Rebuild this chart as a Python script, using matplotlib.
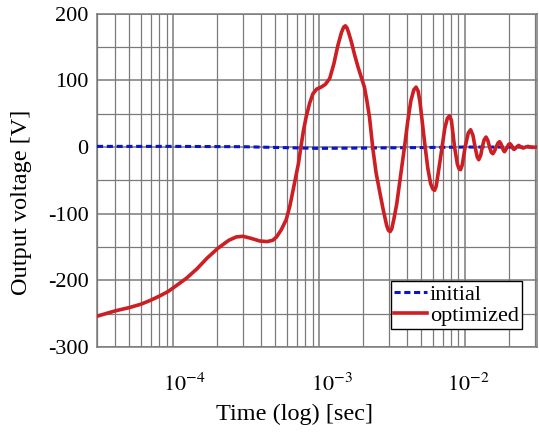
import numpy as np
import matplotlib.pyplot as plt
from matplotlib.transforms import ScaledTranslation

plt.rcParams["font.family"] = ["Liberation Serif", "DejaVu Serif"]
plt.rcParams["mathtext.fontset"] = "stix"
plt.rcParams["axes.unicode_minus"] = False

# values
t_init = [3.0e-5, 1.0e-4, 3.0e-4, 6.0e-4, 1.0e-3, 2.0e-3, 4.0e-3, 1.0e-2, 3.1e-2]
v_init = [1, 1, 0.5, -1, -2, -1.5, -1, 0, 0]

t_opt = [3.0e-5, 4.0e-5, 5.0e-5, 6.0e-5, 7.0e-5, 8.0e-5, 9.2e-5, 1.05e-4, 1.23e-4,
         1.45e-4, 1.7e-4, 2.02e-4, 2.4e-4, 2.7e-4, 3.0e-4, 3.4e-4, 3.9e-4, 4.4e-4,
         4.8e-4, 5.1e-4, 5.5e-4, 5.94e-4, 6.3e-4, 6.6e-4, 6.9e-4, 7.2e-4, 7.5e-4,
         7.8e-4, 8.15e-4, 8.6e-4, 9.05e-4, 9.6e-4, 1.03e-3, 1.1e-3, 1.18e-3, 1.26e-3,
         1.34e-3, 1.42e-3, 1.47e-3, 1.51e-3, 1.55e-3, 1.6e-3, 1.66e-3, 1.75e-3,
         1.84e-3, 1.94e-3, 2.04e-3, 2.12e-3, 2.21e-3, 2.33e-3, 2.45e-3, 2.59e-3,
         2.75e-3, 2.9e-3, 2.98e-3, 3.06e-3, 3.14e-3, 3.25e-3, 3.4e-3, 3.6e-3,
         3.84e-3, 4.05e-3, 4.25e-3, 4.45e-3, 4.61e-3, 4.76e-3, 4.9e-3, 5.1e-3,
         5.32e-3, 5.55e-3, 5.8e-3, 6.0e-3, 6.17e-3, 6.33e-3, 6.55e-3, 6.95e-3,
         7.25e-3, 7.55e-3, 7.81e-3, 8.05e-3, 8.46e-3, 8.85e-3, 9.1e-3, 9.3e-3,
         9.55e-3, 1.0e-2, 1.05e-2, 1.09e-2, 1.13e-2, 1.17e-2, 1.21e-2, 1.24e-2,
         1.28e-2, 1.31e-2, 1.35e-2, 1.39e-2, 1.43e-2, 1.47e-2, 1.51e-2, 1.55e-2,
         1.59e-2, 1.63e-2, 1.68e-2, 1.72e-2, 1.76e-2, 1.79e-2, 1.83e-2, 1.86e-2,
         1.9e-2, 1.94e-2, 1.99e-2, 2.03e-2, 2.07e-2, 2.1e-2, 2.14e-2, 2.17e-2,
         2.21e-2, 2.25e-2, 2.33e-2, 2.41e-2, 2.5e-2, 2.6e-2, 2.7e-2, 2.8e-2,
         2.9e-2, 3.1e-2]
v_opt = [-254, -246, -241, -236, -230, -224, -217, -208, -197,
         -183, -167, -152, -140, -135, -134, -137, -141, -142,
         -140, -135, -124, -109, -88, -66, -45, -25, 1,
         25, 46, 66, 80, 87, 90, 94, 103, 125,
         152, 172, 180, 182, 179, 170, 158, 138,
         121, 105, 90, 70, 45, -2, -38, -66,
         -95, -118, -125, -127, -123, -108, -85, -45,
         0, 40, 70, 86, 90, 84, 68, 35,
         0, -32, -55, -63, -65, -59, -38, 0,
         28, 43, 47, 40, 0, -26, -33, -34,
         -27, 0, 21, 26, 18, 0, -15, -19,
         -12, 0, 11, 15, 10, 0, -8, -10,
         -6, 0, 6, 8, 5, 0, -5, -7,
         -4, 0, 4, 5, 3, 0, -3, -3.5,
         -2, 0, 2.5, 0, -1.5, 0, 1, 0,
         -0.5, 0]

xticks = [1e-4, 1e-3, 1e-2]
xticklabels = [r"$10^{-4}$", r"$10^{-3}$", r"$10^{-2}$"]
yticks = [-300, -200, -100, 0, 100, 200]

fig = plt.figure(figsize=(5.39, 4.33), dpi=100)
ax = fig.add_axes([0.18, 0.199, 0.816, 0.769])

ax.plot(t_init, v_init, color="#0a14c8", lw=2.2, ls=(0, (2.0, 1.2)), label="initial", zorder=3)
ax.plot(t_opt, v_opt, color="#cc1e23", lw=2.6, label="optimized", zorder=4)

ax.set_xscale("log")
ax.set_xlim(3e-5, 3.1e-2)
ax.set_ylim(-300, 200)
ax.set_xticks(xticks)
ax.set_xticklabels(xticklabels)
ax.set_yticks(yticks)
ax.set_yticks(np.arange(-300, 201, 50), minor=True)
ax.tick_params(which="both", length=0)
ax.tick_params(axis="y", labelsize=16, pad=6)
ax.tick_params(axis="x", labelsize=16, pad=19)

ax.grid(True, which="major", color="#7a7a7a", lw=1.1)
ax.grid(True, which="minor", color="#7a7a7a", lw=0.9)
for s in ax.spines.values():
    s.set_color("#7a7a7a")
    s.set_linewidth(1.1)

# shift the x tick labels the way the reference places them
for lab, dx in zip(ax.get_xticklabels(), [11, 13, 3]):
    lab.set_transform(lab.get_transform() + ScaledTranslation(dx / 100, 0, fig.dpi_scale_trans))

ax.set_xlabel("Time (log) [sec]", fontsize=17.5)
ax.set_ylabel("Output voltage [V]", fontsize=17.5)
ax.xaxis.set_label_coords(0.449, -0.17)
ax.yaxis.set_label_coords(-0.148, 0.435)

leg = ax.legend(loc="lower right", bbox_to_anchor=(0.966, 0.054), borderaxespad=0,
                fontsize=16, handlelength=1.5, handletextpad=0.1, labelspacing=0.0,
                borderpad=0.15, fancybox=False, framealpha=1, edgecolor="black")
leg.get_frame().set_linewidth(1.0)

fig.savefig("out.png", dpi=100)
